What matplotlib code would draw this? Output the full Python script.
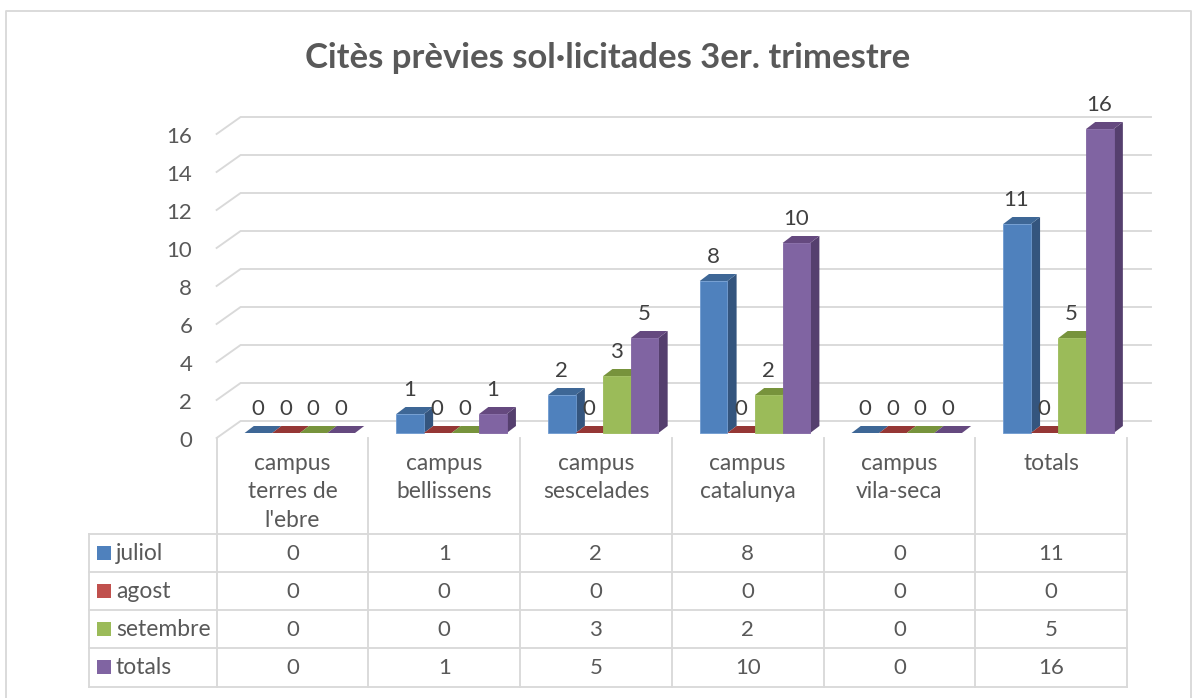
import matplotlib
matplotlib.use("Agg")
import matplotlib.pyplot as plt
from matplotlib.patches import Polygon, Rectangle
from matplotlib.transforms import ScaledTranslation

categories = ["campus\nterres de\nl'ebre", "campus\nbellissens", "campus\nsescelades",
              "campus\ncatalunya", "campus\nvila-seca", "totals"]
series_names = ["juliol", "agost", "setembre", "totals"]
juliol = [0, 1, 2, 8, 0, 11]
agost = [0, 0, 0, 0, 0, 0]
setembre = [0, 0, 3, 2, 0, 5]
totals = [0, 1, 5, 10, 0, 16]
y_ticks = [0, 2, 4, 6, 8, 10, 12, 14, 16]
title = "Citès prèvies sol·licitades 3er. trimestre"

front = ["#4F81BD", "#C0504D", "#9BBB59", "#8064A2"]
side = ["#34557E", "#7F3432", "#67803A", "#553F6E"]
top = ["#3E6796", "#953735", "#77933C", "#65497F"]
edge = ["#6F9AD0", "#C0504D", "#9BBB59", "#8064A2"]
TXT = "#595959"
LBL = "#404040"
GRID = "#D9D9D9"
FONT = "Lato"
plt.rcParams["font.family"] = [FONT, "DejaVu Sans"]

W, H = 1200, 698
X0, X6 = 216.6, 1127.0
Y0, Y16 = 433.0, 129.0
fig = plt.figure(figsize=(12, 6.98), dpi=100, facecolor="white")

# pixel-space layer for frame and table
bg = fig.add_axes([0, 0, 1, 1])
bg.set_xlim(0, W); bg.set_ylim(H, 0); bg.axis("off")
bg.plot([6, 6, 1190.5, 1190.5], [698, 11, 11, 698], color="#D9D9D9", lw=1.35)

ax = fig.add_axes([X0 / W, 1 - Y0 / H, (X6 - X0) / W, (Y0 - Y16) / H])
ax.set_xlim(0, 6); ax.set_ylim(0, 16); ax.patch.set_alpha(0)
for s in ax.spines.values():
    s.set_visible(False)

cw = (X6 - X0) / 6
uh = (Y0 - Y16) / 16
# wall/gridlines
wall_dx = 24 / cw
wall_front = -5 / uh
wall_back = 12 / uh
for v in y_ticks:
    ax.plot([0, wall_dx, 6 + wall_dx], [v + wall_front, v + wall_back, v + wall_back],
            color=GRID, lw=1.35, clip_on=False, zorder=1, solid_joinstyle="miter")

# bars
bw = 27.6 / cw
dx = 9.2 / cw
dy = 7 / uh
start = (244.6 - X0) / cw
all_series = [juliol, agost, setembre, totals]
for c in range(6):
    for s, vals in enumerate(all_series):
        v = vals[c]
        l = c + start + s * bw
        r = l + bw
        z = 3 + s * 0.1
        ax.add_patch(Polygon([(r, 0), (r + dx, dy), (r + dx, v + dy), (r, v)], closed=True,
                             fc=side[s], ec="none", clip_on=False, zorder=z))
        ax.add_patch(Polygon([(l, v), (l + dx, v + dy), (r + dx, v + dy), (r, v)], closed=True,
                             fc=top[s], ec="none", clip_on=False, zorder=z))
        if v > 0:
            ax.bar(l, v, width=bw, align="edge", color=front[s], edgecolor=edge[s],
                   linewidth=0.6, clip_on=False, zorder=z + 0.01)
for c in range(6):
    for s, vals in enumerate(all_series):
        ax.annotate(str(vals[c]), (c + start + (s + 0.5) * bw - 0.004, vals[c]), xytext=(0, 17.5),
                    textcoords="offset points", ha="center", va="center",
                    fontsize=16, color=LBL, zorder=6, annotation_clip=False)

# axis labels
ax.set_yticks(y_ticks)
ax.set_yticklabels([str(v) for v in y_ticks], fontsize=16, color=TXT)
ax.tick_params(axis="y", length=0, pad=17.5)
off = ScaledTranslation(0, -6 / 100, fig.dpi_scale_trans)
for lab in ax.get_yticklabels():
    lab.set_transform(lab.get_transform() + off)
ax.set_xticks([c + 0.5 for c in range(6)])
ax.set_xticklabels(categories, fontsize=16.4, color=TXT, linespacing=1.43)
ax.tick_params(axis="x", length=0, pad=14.5)

# table
rows = [534, 572, 610, 648.3, 686.5]
cols = [X0 + i * cw for i in range(7)]
for y in rows:
    bg.plot([89, X6], [y, y], color=GRID, lw=1.35)
bg.plot([89, 89], [rows[0], rows[-1]], color=GRID, lw=1.35)
for x in cols:
    bg.plot([x, x], [438, rows[-1]], color=GRID, lw=1.35)
for r, (name, vals) in enumerate(zip(series_names, all_series)):
    yc = (rows[r] + rows[r + 1]) / 2
    bg.add_patch(Rectangle((97, yc - 7), 14, 14, fc=front[r], ec="none"))
    bg.text(116, yc, name, fontsize=16.5, color=TXT, ha="left", va="center")
    for c, v in enumerate(vals):
        bg.text(X0 + (c + 0.5) * cw, yc + 0.8, str(v), fontsize=16, color=TXT, ha="center", va="center")

fig.text(607.5 / W, 1 - 58 / H, title, fontsize=24.95, fontweight="bold", color=TXT, ha="center", va="center")
fig.savefig("out.png", dpi=100, facecolor="white")
